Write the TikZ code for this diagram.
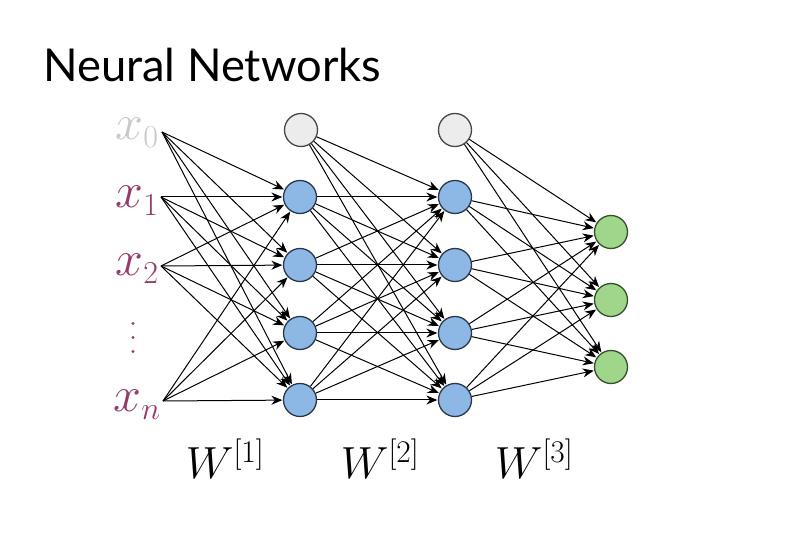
\RequirePackage{fix-cm}
\documentclass[tikz,border=0pt]{standalone}
\usepackage{fontspec}
\newfontfamily\titlefont{Lato}
\usetikzlibrary{arrows.meta}
\DeclareMathSizes{50}{50}{32}{22}
\definecolor{inlabel}{RGB}{150,58,108}
\definecolor{biaslabel}{RGB}{200,200,200}
\definecolor{hidfill}{RGB}{141,184,230}
\definecolor{hiddraw}{RGB}{40,55,75}
\definecolor{outfill}{RGB}{160,214,140}
\definecolor{outdraw}{RGB}{50,80,40}
\definecolor{biasfill}{RGB}{236,236,236}
\definecolor{biasdraw}{RGB}{70,70,70}
\tikzset{
  unit/.style={circle, minimum size=33pt, inner sep=0pt, line width=1.3pt},
  hidden/.style={unit, fill=hidfill, draw=hiddraw},
  outunit/.style={unit, fill=outfill, draw=outdraw},
  biasunit/.style={unit, fill=biasfill, draw=biasdraw},
  inp/.style={inner sep=0pt, text=inlabel, font=\fontsize{50}{50}\selectfont},
  ellipsisdot/.style={fill=inlabel, circle, minimum size=3.4pt, inner sep=0pt},
  weight/.style={inner sep=0pt, font=\fontsize{45}{45}\selectfont},
  edge/.style={line width=1pt, -{Stealth[length=11pt,width=9pt]}, shorten >=0.5pt},
}
\begin{document}
\begin{tikzpicture}[x=1pt,y=-1pt]
\useasboundingbox (0,0) rectangle (793,534);
\fill[white] (0,0) rectangle (793,534);

% title
\node[anchor=base west, inner sep=0pt, font=\titlefont\fontsize{45.3}{45.3}\selectfont] (title) at (43,82) {Neural Networks};

% input labels
\node[inp, text=biaslabel, anchor=base] (x0) at (137,140) {$x_0$};
\node[inp, anchor=base] (x1) at (137,208) {$x_1$};
\node[inp, anchor=base] (x2) at (137,276) {$x_2$};
\node[inp, anchor=base] (xn) at (137,412) {$x_n$};
% vertical ellipsis between x_2 and x_n
\node[ellipsisdot] (d1) at (133,323.5) {};
\node[ellipsisdot] (d2) at (133,337.5) {};
\node[ellipsisdot] (d3) at (133,351.5) {};

% line origins at the labels
\coordinate (s0) at (162,132);
\coordinate (s1) at (161,197);
\coordinate (s2) at (161,266);
\coordinate (sn) at (163,401);

% first hidden layer
\node[biasunit] (a0) at (301,130) {};
\node[hidden] (a1) at (300,197) {};
\node[hidden] (a2) at (300,265) {};
\node[hidden] (a3) at (300,333) {};
\node[hidden] (a4) at (300,400) {};

% second hidden layer
\node[biasunit] (b0) at (455,130) {};
\node[hidden] (b1) at (455,197) {};
\node[hidden] (b2) at (455,265) {};
\node[hidden] (b3) at (455,333) {};
\node[hidden] (b4) at (455,400) {};

% output layer
\node[outunit] (c1) at (611,232) {};
\node[outunit] (c2) at (611,300) {};
\node[outunit] (c3) at (611,367) {};

% connections
\foreach \s in {s0,s1,s2,sn}
  \foreach \t in {a1,a2,a3,a4}
    \draw[edge] (\s) -- (\t);
\foreach \s in {a0,a1,a2,a3,a4}
  \foreach \t in {b1,b2,b3,b4}
    \draw[edge] (\s) -- (\t);
\foreach \s in {b0,b1,b2,b3,b4}
  \foreach \t in {c1,c2,c3}
    \draw[edge] (\s) -- (\t);

% weight labels
\node[weight, anchor=base] (w1) at (225,479) {$W^{[1]}$};
\node[weight, anchor=base] (w2) at (380,479) {$W^{[2]}$};
\node[weight, anchor=base] (w3) at (534,479) {$W^{[3]}$};
\end{tikzpicture}
\end{document}
